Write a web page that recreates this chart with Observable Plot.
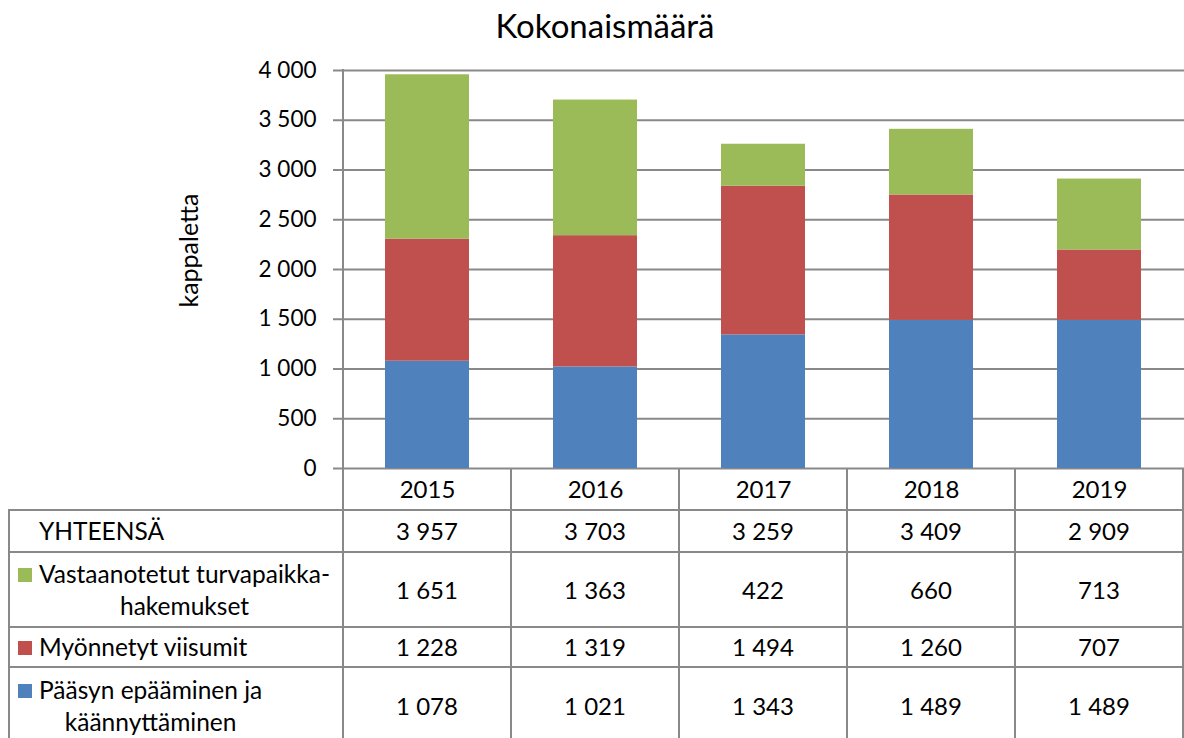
<!DOCTYPE html>
<html><head><meta charset="utf-8">
<script src="https://cdn.jsdelivr.net/npm/d3@7"></script>
<script src="https://cdn.jsdelivr.net/npm/@observablehq/plot@0.6"></script>
<style>
body{margin:0;background:#fff;font-family:Lato,sans-serif;}
#wrap{position:relative;width:1184px;height:738px;overflow:hidden;background:#fff;}
#title{position:absolute;top:10px;left:0;width:1210px;text-align:center;font-size:33px;line-height:30px;color:#000;}
#chart{position:absolute;left:0;top:0;}
.cell{position:absolute;display:flex;align-items:center;justify-content:center;font-size:24px;line-height:32px;color:#000;}
.lab{justify-content:flex-start;font-size:24.5px;}
.lab .inner{display:flex;align-items:flex-start;padding-left:9px;}
.sq{width:14px;height:14px;margin-top:10px;margin-right:7px;flex:none;}
.txt{text-align:center;}
.ln{position:absolute;background:#898989;}
</style></head>
<body><div id="wrap"><div id="title">Kokonaismäärä</div><div id="chart"></div></div>
<script>
const years = ["2015", "2016", "2017", "2018", "2019"];
const seriesNames = ["Pääsyn epääminen ja käännyttäminen", "Myönnetyt viisumit", "Vastaanotetut turvapaikkahakemukset"];
const seriesColors = ["#4F81BD", "#C0504D", "#9BBB59"];
const paasy = [1078, 1021, 1343, 1489, 1489];
const viisumit = [1228, 1319, 1494, 1260, 707];
const turvapaikka = [1651, 1363, 422, 660, 713];
const yhteensa = [3957, 3703, 3259, 3409, 2909];
const yTicks = [0, 500, 1000, 1500, 2000, 2500, 3000, 3500, 4000];
const yLabel = "kappaletta";
const totalLabel = ["YHTEENSÄ"];
const turvaLabel = ["Vastaanotetut turvapaikka-", "hakemukset"];
const viisumiLabel = ["Myönnetyt viisumit"];
const paasyLabel = ["Pääsyn epääminen ja", "käännyttäminen"];

const seriesValues = [paasy, viisumit, turvapaikka];
const data = [];
years.forEach((yr, i) => seriesValues.forEach((vals, s) => data.push({year: yr, series: seriesNames[s], value: vals[i]})));

const loc = d3.formatLocale({decimal: ",", thousands: "\u00a0", grouping: [3], currency: ["", "€"]});
const fmt = loc.format(",d");
const gridColor = "#898989";

const chart = Plot.plot({
  width: 1184,
  height: 510,
  marginTop: 70,
  marginBottom: 42,
  marginLeft: 342,
  marginRight: 0,
  style: {fontFamily: "Lato, sans-serif", fontSize: "22px", color: "#000", background: "transparent", overflow: "visible"},
  x: {domain: years, paddingInner: 0.5, paddingOuter: 0.25},
  y: {domain: [0, 4000]},
  color: {domain: seriesNames, range: seriesColors},
  marks: [
    Plot.ruleY(yTicks, {stroke: gridColor, strokeWidth: 2}),
    Plot.barY(data, {x: "year", y: "value", fill: "series", order: seriesNames}),
    Plot.axisY({ticks: yTicks, tickSize: 9, tickPadding: 17, stroke: gridColor, strokeWidth: 2, fill: "#000", fontSize: 22.5, tickFormat: fmt, label: null}),
    Plot.axisX({tickSize: 0, tickPadding: 12, fill: "#000", fontSize: 24, label: null}),
    Plot.text([yLabel], {frameAnchor: "left", textAnchor: "middle", lineAnchor: "middle", rotate: -90, dx: -153, dy: -19, fontSize: 25, fill: "#000"})
  ]
});
document.getElementById("chart").appendChild(chart);

const wrap = document.getElementById("wrap");
const xs = chart.scale("x");
const ys = chart.scale("y");
const step = xs.step, bw = xs.bandwidth;
const colLeft = years.map(y => xs.apply(y) - (step - bw) / 2);
const plotLeft = colLeft[0];
const plotRight = colLeft[colLeft.length - 1] + step;
const y0 = ys.apply(0), yTop = ys.apply(4000);

const tableLeft = 9;
const rowBounds = [510, 552, 627, 667, 745];
const headerTop = y0;
const rows = [
  {label: totalLabel, color: null, values: yhteensa},
  {label: turvaLabel, color: seriesColors[2], values: turvapaikka},
  {label: viisumiLabel, color: seriesColors[1], values: viisumit},
  {label: paasyLabel, color: seriesColors[0], values: paasy}
];

function line(x, y, w, h) {
  const d = document.createElement("div");
  d.className = "ln";
  d.style.left = x + "px"; d.style.top = y + "px"; d.style.width = w + "px"; d.style.height = h + "px";
  wrap.appendChild(d);
}
const bottomY = rowBounds[rowBounds.length - 1];
line(plotLeft - 1, yTop - 1, 2, bottomY - yTop + 1);
colLeft.slice(1).forEach(x => line(x - 1, headerTop, 2, bottomY - headerTop));
line(plotRight - 1, headerTop, 2, bottomY - headerTop);
line(tableLeft - 1, rowBounds[0] - 1, 2, bottomY - rowBounds[0] + 1);
rowBounds.forEach(y => line(tableLeft - 1, y - 1, plotRight - tableLeft + 1, 2));

rows.forEach((r, ri) => {
  const top = rowBounds[ri], bottom = rowBounds[ri + 1];
  const lab = document.createElement("div");
  lab.className = "cell lab";
  lab.style.left = tableLeft + "px"; lab.style.top = top + "px";
  lab.style.width = (plotLeft - tableLeft) + "px"; lab.style.height = (bottom - top) + "px";
  const inner = document.createElement("div"); inner.className = "inner";
  const sq = document.createElement("div"); sq.className = "sq";
  sq.style.background = r.color || "transparent";
  const txt = document.createElement("div"); txt.className = "txt";
  r.label.forEach((s, k) => {
    if (k) txt.appendChild(document.createElement("br"));
    txt.appendChild(document.createTextNode(s));
  });
  inner.appendChild(sq); inner.appendChild(txt); lab.appendChild(inner);
  wrap.appendChild(lab);
  r.values.forEach((v, ci) => {
    const c = document.createElement("div");
    c.className = "cell";
    c.style.left = colLeft[ci] + "px"; c.style.top = top + "px";
    c.style.width = step + "px"; c.style.height = (bottom - top) + "px";
    c.textContent = fmt(v);
    wrap.appendChild(c);
  });
});
</script>
</body></html>
